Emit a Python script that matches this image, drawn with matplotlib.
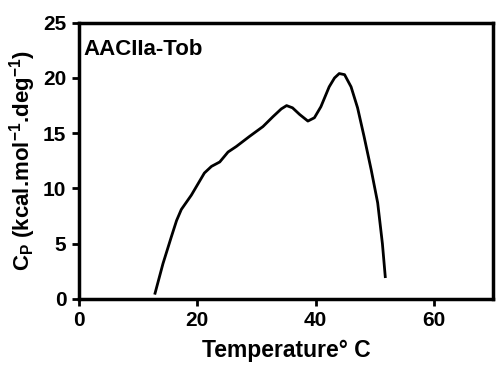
import matplotlib
matplotlib.use("Agg")
import matplotlib.pyplot as plt

plt.rcParams['font.family'] = 'Liberation Sans'
plt.rcParams['font.weight'] = 'bold'
plt.rcParams['mathtext.fontset'] = 'custom'
plt.rcParams['mathtext.rm'] = 'Liberation Sans:bold'
plt.rcParams['mathtext.bf'] = 'Liberation Sans:bold'
plt.rcParams['mathtext.it'] = 'Liberation Sans:bold'

# curva Cp vs temperatura
temp = [12.8, 14.2, 15.6, 16.5, 17.3, 19.0, 21.2, 22.4, 23.8, 25.2, 26.6, 28.8,
        31.1, 32.8, 34.2, 35.1, 36.1, 37.3, 38.7, 39.8, 40.9, 42.3, 43.2, 44.0,
        44.9, 46.0, 47.1, 48.2, 49.4, 50.5, 51.3, 51.8]
cp = [0.4, 3.2, 5.6, 7.1, 8.1, 9.4, 11.4, 12.0, 12.4, 13.3, 13.8, 14.7,
      15.6, 16.5, 17.2, 17.5, 17.3, 16.7, 16.1, 16.4, 17.4, 19.2, 20.0, 20.4,
      20.3, 19.2, 17.3, 14.7, 11.7, 8.7, 5.0, 1.9]

x_ticks = [0, 20, 40, 60]
y_ticks = [0, 5, 10, 15, 20, 25]

fig = plt.figure(figsize=(4.98, 3.68), dpi=100)
ax = fig.add_axes([0.1586, 0.1875, 0.8314, 0.7508])

ax.plot(temp, cp, color='black', lw=2, solid_joinstyle='round', solid_capstyle='butt')

ax.set_xlim(0, 70)
ax.set_ylim(0, 25)
ax.set_xticks(x_ticks)
ax.set_yticks(y_ticks)
ax.tick_params(direction='out', length=5, width=2, labelsize=15, pad=4)
for s in ax.spines.values():
    s.set_linewidth(2.5)

ax.set_xlabel('Temperature° C', fontsize=16.5, fontweight='bold', labelpad=6)
ax.set_ylabel(r'C$_\mathregular{P}$ (kcal.mol$^\mathregular{-1}$.deg$^\mathregular{-1}$)',
              fontsize=16, fontweight='bold', labelpad=4)
ax.text(0.01, 0.94, 'AACIIa-Tob', transform=ax.transAxes, ha='left', va='top',
        fontsize=16, fontweight='bold')

fig.savefig('out.png', dpi=100)
